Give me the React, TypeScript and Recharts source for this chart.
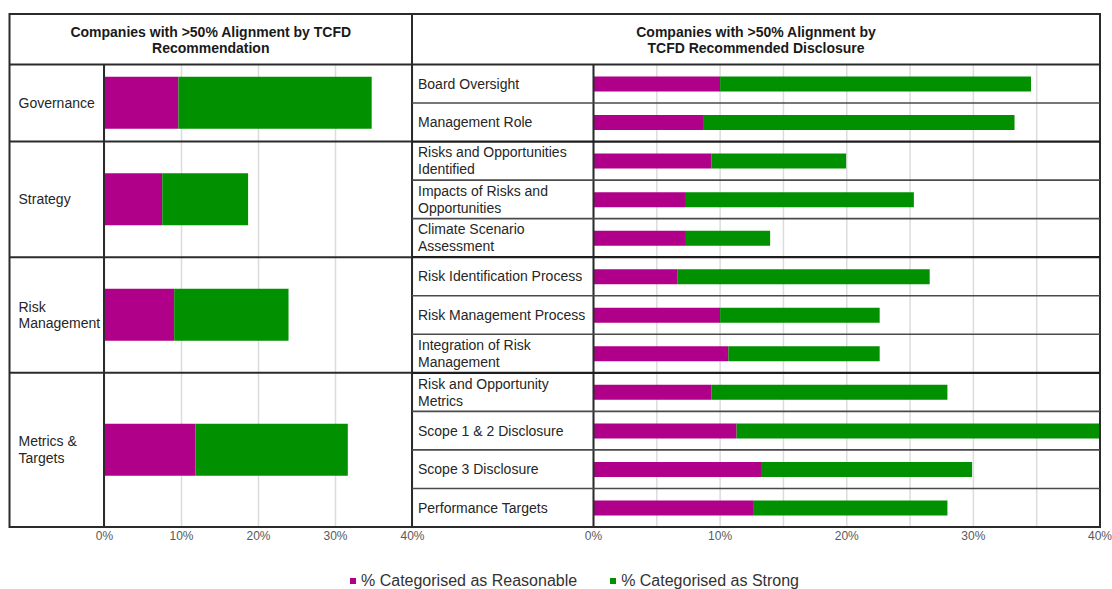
import React from 'react';
import { BarChart, Bar, XAxis, YAxis, CartesianGrid, Legend, Text } from 'recharts';

// ---------------- data ----------------
const recommendations = ['Governance', 'Strategy', 'Risk Management', 'Metrics & Targets'];
const disclosuresPerRecommendation = [2, 3, 3, 4];
const recommendationReasonable = [9.6, 7.5, 9.05, 11.8];
const recommendationStrong = [25.1, 11.15, 14.85, 19.8];

const disclosures = [
  'Board Oversight',
  'Management Role',
  'Risks and Opportunities Identified',
  'Impacts of Risks and Opportunities',
  'Climate Scenario Assessment',
  'Risk Identification Process',
  'Risk Management Process',
  'Integration of Risk Management',
  'Risk and Opportunity Metrics',
  'Scope 1 & 2 Disclosure',
  'Scope 3 Disclosure',
  'Performance Targets',
];
const disclosureReasonable = [10.0, 8.65, 9.3, 7.3, 7.3, 6.65, 10.0, 10.65, 9.3, 11.3, 13.3, 12.6];
const disclosureStrong = [24.55, 24.6, 10.65, 18.0, 6.65, 19.9, 12.6, 11.95, 18.65, 28.7, 16.6, 15.35];

const leftTicks = [0, 10, 20, 30, 40];
const rightTicks = [0, 5, 10, 15, 20, 25, 30, 35, 40];
const seriesNames = ['% Categorised as Reasonable', '% Categorised as Strong'];
const headerLeft = ['Companies with >50% Alignment by TCFD', 'Recommendation'];
const headerRight = ['Companies with >50% Alignment by', 'TCFD Recommended Disclosure'];

// ---------------- style / layout ----------------
const FONT = '"Liberation Sans", Arial, Helvetica, sans-serif';
const MAGENTA = '#b0008a';
const GREEN = '#009000';
const T_LEFT = 9.5;
const T_RIGHT = 1100;
const T_TOP = 14;
const H_BOTTOM = 64.5;
const T_BOTTOM = 527;
const MID = 412;
const L_AXIS = 104;
const R_AXIS = 593.5;
const ROWS = disclosures.length;
const ROW_H = (T_BOTTOM - H_BOTTOM) / ROWS;

// cumulative row boundaries of recommendation groups
const groupStarts: number[] = [];
disclosuresPerRecommendation.reduce((acc, n) => {
  groupStarts.push(acc);
  return acc + n;
}, 0);
const groupCenters = disclosuresPerRecommendation.map((n, i) => groupStarts[i] + n / 2);
const rowCenters = disclosures.map((_, i) => i + 0.5);

const leftData = recommendations.map((name, i) => ({
  name,
  pos: groupCenters[i],
  reasonable: recommendationReasonable[i],
  strong: recommendationStrong[i],
}));
const rightData = disclosures.map((name, i) => ({
  name,
  pos: rowCenters[i],
  reasonable: disclosureReasonable[i],
  strong: disclosureStrong[i],
}));

const pct = (v: number) => (v % 10 === 0 ? `${v}%` : '');

const makeTick = (labels: string[], x: number, width: number) => (props: any) => {
  const idx = props.index ?? props.payload?.index ?? 0;
  return (
    <Text
      x={x}
      y={props.y}
      width={width}
      verticalAnchor="middle"
      textAnchor="start"
      lineHeight="1.21em"
      fill="#262626"
      fontSize={14}
      fontFamily={FONT}
      style={{ fontSize: '14px', fontFamily: FONT }}
    >
      {labels[idx]}
    </Text>
  );
};

const renderLegend = (props: any) => {
  const payload = props.payload || [];
  return (
    <div
      style={{
        display: 'flex',
        paddingTop: 15,
        fontFamily: FONT,
        fontSize: 16,
        lineHeight: '18px',
        color: '#333333',
        whiteSpace: 'nowrap',
      }}
    >
      {payload.map((entry: any, i: number) => (
        <div key={i} style={{ display: 'flex', alignItems: 'center', marginRight: 33 }}>
          <span
            style={{
              display: 'inline-block',
              width: 6,
              height: 6,
              background: entry.color,
              marginRight: 5,
            }}
          />
          <span>{entry.value}</span>
        </div>
      ))}
    </div>
  );
};

const LEFT_W = 420;
const LEFT_H = T_BOTTOM - T_TOP + 30;
const RIGHT_W = 700;
const RIGHT_H = 589 - T_TOP;

export default function App() {
  const groupBoundaries = groupStarts.slice(1);
  const rowBoundaries = disclosures.map((_, i) => i).slice(1);
  return (
    <div
      style={{
        position: 'absolute',
        left: 0,
        top: 0,
        width: 1112,
        height: 589,
        background: '#ffffff',
        fontFamily: FONT,
        overflow: 'hidden',
      }}
    >
      {/* Left panel: by recommendation */}
      <div style={{ position: 'absolute', left: T_LEFT, top: T_TOP }}>
        <BarChart
          width={LEFT_W}
          height={LEFT_H}
          data={leftData}
          layout="vertical"
          margin={{ top: H_BOTTOM - T_TOP, right: LEFT_W - (MID - T_LEFT), left: 0, bottom: 0 }}
        >
          <CartesianGrid horizontal={false} stroke="#dcdcdc" strokeWidth={1.5} />
          <XAxis
            type="number"
            domain={[0, 40]}
            ticks={leftTicks}
            allowDataOverflow
            tickFormatter={pct}
            axisLine={false}
            tickLine={false}
            tickSize={2}
            tickMargin={2}
            height={30}
            interval={0}
            tick={{ fill: '#595959', fontSize: 12, fontFamily: FONT }}
          />
          <YAxis
            type="number"
            dataKey="pos"
            domain={[0, ROWS]}
            allowDataOverflow
            ticks={groupCenters}
            interval={0}
            width={L_AXIS - T_LEFT}
            axisLine={false}
            tickLine={false}
            tick={makeTick(recommendations, 8.5, 84)}
          />
          <Bar dataKey="reasonable" name={seriesNames[0]} stackId="a" fill={MAGENTA} barSize={52} isAnimationActive={false} />
          <Bar dataKey="strong" name={seriesNames[1]} stackId="a" fill={GREEN} barSize={52} isAnimationActive={false} />
        </BarChart>
      </div>

      {/* Right panel: by recommended disclosure */}
      <div style={{ position: 'absolute', left: MID, top: T_TOP }}>
        <BarChart
          width={RIGHT_W}
          height={RIGHT_H}
          data={rightData}
          layout="vertical"
          margin={{ top: H_BOTTOM - T_TOP, right: RIGHT_W - (T_RIGHT - MID), left: 0, bottom: 0 }}
        >
          <CartesianGrid horizontal={false} stroke="#dcdcdc" strokeWidth={1.5} />
          <XAxis
            type="number"
            domain={[0, 40]}
            ticks={rightTicks}
            allowDataOverflow
            tickFormatter={pct}
            axisLine={false}
            tickLine={false}
            tickSize={2}
            tickMargin={2}
            height={30}
            interval={0}
            tick={{ fill: '#595959', fontSize: 12, fontFamily: FONT }}
          />
          <YAxis
            type="number"
            dataKey="pos"
            domain={[0, ROWS]}
            allowDataOverflow
            ticks={rowCenters}
            interval={0}
            width={R_AXIS - MID}
            axisLine={false}
            tickLine={false}
            tick={makeTick(disclosures, 6, 174)}
          />
          <Legend
            content={renderLegend}
            wrapperStyle={{ left: 350 - MID, top: RIGHT_H - 32, bottom: 'auto', width: 480, height: 32 }}
          />
          <Bar dataKey="reasonable" name={seriesNames[0]} stackId="a" fill={MAGENTA} barSize={15} isAnimationActive={false} />
          <Bar dataKey="strong" name={seriesNames[1]} stackId="a" fill={GREEN} barSize={15} isAnimationActive={false} />
        </BarChart>
      </div>

      {/* Table frame and headers */}
      <svg
        width={1112}
        height={589}
        style={{ position: 'absolute', left: 0, top: 0, pointerEvents: 'none' }}
      >
        <g stroke="#2b2b2b" fill="none">
          <rect x={T_LEFT} y={T_TOP} width={T_RIGHT - T_LEFT} height={T_BOTTOM - T_TOP} strokeWidth={2} />
          <line x1={T_LEFT} x2={T_RIGHT} y1={H_BOTTOM} y2={H_BOTTOM} strokeWidth={2.2} />
          <line x1={MID} x2={MID} y1={T_TOP} y2={T_BOTTOM} strokeWidth={2} />
          <line x1={L_AXIS} x2={L_AXIS} y1={H_BOTTOM} y2={T_BOTTOM} strokeWidth={2} />
          <line x1={R_AXIS} x2={R_AXIS} y1={H_BOTTOM} y2={T_BOTTOM} strokeWidth={2} />
          {groupBoundaries.map((r) => (
            <line
              key={`g${r}`}
              x1={T_LEFT}
              x2={MID}
              y1={H_BOTTOM + r * ROW_H}
              y2={H_BOTTOM + r * ROW_H}
              strokeWidth={2}
            />
          ))}
          {rowBoundaries.map((r) => {
            const isGroup = groupBoundaries.includes(r);
            return (
              <line
                key={`r${r}`}
                x1={MID}
                x2={T_RIGHT}
                y1={H_BOTTOM + r * ROW_H}
                y2={H_BOTTOM + r * ROW_H}
                strokeWidth={isGroup ? 2.2 : 1.6}
                stroke={isGroup ? '#1e1e1e' : '#4a4a4a'}
              />
            );
          })}
        </g>
        <g fontFamily={FONT} fontWeight="bold" fontSize={14} fill="#1a1a1a" textAnchor="middle">
          <text x={(T_LEFT + MID) / 2} y={36.5}>{headerLeft[0]}</text>
          <text x={(T_LEFT + MID) / 2} y={52.5}>{headerLeft[1]}</text>
          <text x={(MID + T_RIGHT) / 2} y={36.5}>{headerRight[0]}</text>
          <text x={(MID + T_RIGHT) / 2} y={52.5}>{headerRight[1]}</text>
        </g>
      </svg>
    </div>
  );
}
